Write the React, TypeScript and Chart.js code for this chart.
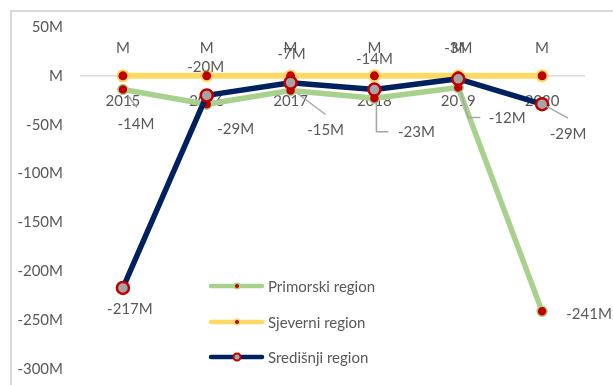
import React, { useEffect, useRef } from 'react';
import { Chart, registerables } from 'chart.js';
Chart.register(...registerables);

const years = ['2015', '2016', '2017', '2018', '2019', '2020'];
const primorski = [-14, -29, -15, -23, -12, -241];
const sjeverni = [0, 0, 0, 0, 0, 0];
const sredisnji = [-217, -20, -7, -14, -3, -29];
const yTicks = [50, 0, -50, -100, -150, -200, -250, -300];
const seriesNames = ['Primorski region', 'Sjeverni region', 'Središnji region'];

const FONT = 'Lato';
const TEXT = '#595959';
const GREEN = '#a9d18e';
const YELLOW = '#ffd966';
const NAVY = '#002060';
const RED = '#c00000';
const GREY = '#a5a5a5';
const LEADER = '#a6a6a6';

const fmt = (v: number) => (v === 0 ? 'M' : `${v}M`);

type LS = { dx: number; dy: number; leader?: number[][] };
// data label placement (styling only)
const labelStyle: LS[][] = [
  [
    { dx: 13, dy: 35, leader: [[5, 6], [14, 18]] },
    { dx: 29, dy: 25 },
    { dx: 35, dy: 40, leader: [[7, 3], [35, 24]] },
    { dx: 42, dy: 33.5, leader: [[2, 4], [2, 33.5], [14, 33.5]] },
    { dx: 49, dy: 30.5, leader: [[2, 3], [10, 30], [22, 30]] },
    { dx: 47, dy: 3 },
  ],
  years.map(() => ({ dx: 0, dy: -28 })),
  [
    { dx: 7, dy: 21 },
    { dx: -1, dy: -28 },
    { dx: 1, dy: -29 },
    { dx: 0, dy: -30 },
    { dx: 0, dy: -30.5 },
    { dx: 26, dy: 30, leader: [[4, 2], [26, 14]] },
  ],
];

const bgPlugin = {
  id: 'bg',
  beforeDraw(chart: any) {
    const { ctx, width, height } = chart;
    ctx.save();
    ctx.fillStyle = '#ffffff';
    ctx.fillRect(0, 0, width, height);
    ctx.fillStyle = '#d9d9d9';
    ctx.fillRect(10, 10, width - 10, 2);
    ctx.fillRect(10, 10, 2, height - 10);
    ctx.restore();
  },
};

const labelsPlugin = {
  id: 'dlabels',
  afterDatasetsDraw(chart: any) {
    const { ctx } = chart;
    ctx.save();
    chart.data.datasets.forEach((ds: any, i: number) => {
      const meta = chart.getDatasetMeta(i);
      meta.data.forEach((pt: any, j: number) => {
        const st = labelStyle[i][j];
        const v = ds.data[j];
        if (st.leader) {
          ctx.strokeStyle = LEADER;
          ctx.lineWidth = 1.5;
          ctx.beginPath();
          st.leader.forEach((p, k) => {
            if (k === 0) ctx.moveTo(pt.x + p[0], pt.y + p[1]);
            else ctx.lineTo(pt.x + p[0], pt.y + p[1]);
          });
          ctx.stroke();
        }
        ctx.fillStyle = TEXT;
        ctx.font = `15px ${FONT}`;
        ctx.textAlign = 'center';
        ctx.textBaseline = 'middle';
        ctx.fillText(fmt(v), pt.x + st.dx, pt.y + st.dy);
      });
    });
    ctx.restore();
  },
};

const legendPlugin = {
  id: 'customLegend',
  afterDraw(chart: any) {
    const { ctx } = chart;
    const rows = [286, 322, 357];
    ctx.save();
    chart.data.datasets.forEach((ds: any, i: number) => {
      const y = rows[i];
      ctx.strokeStyle = ds.borderColor;
      ctx.lineWidth = 4.5;
      ctx.lineCap = 'round';
      ctx.beginPath();
      ctx.moveTo(211, y);
      ctx.lineTo(262, y);
      ctx.stroke();
      ctx.beginPath();
      ctx.arc(237, y, i === 2 ? 3.5 : 2.8, 0, Math.PI * 2);
      ctx.fillStyle = ds.pointBackgroundColor;
      ctx.fill();
      ctx.lineWidth = i === 2 ? 2 : 1.5;
      ctx.strokeStyle = ds.pointBorderColor;
      ctx.stroke();
      ctx.fillStyle = TEXT;
      ctx.font = `15px ${FONT}`;
      ctx.textAlign = 'left';
      ctx.textBaseline = 'middle';
      ctx.fillText(seriesNames[i], 268, y + 1);
    });
    ctx.restore();
  },
};

export default function App() {
  const ref = useRef<HTMLCanvasElement>(null);
  useEffect(() => {
    document.body.style.margin = '0';
    const chart = new Chart(ref.current as HTMLCanvasElement, {
      type: 'line',
      data: {
        labels: years,
        datasets: [
          {
            label: seriesNames[0],
            data: primorski,
            borderColor: GREEN,
            borderWidth: 5.5,
            pointBackgroundColor: RED,
            pointBorderColor: GREEN,
            pointRadius: 5,
            pointBorderWidth: 1.5,
            order: 3,
          },
          {
            label: seriesNames[1],
            data: sjeverni,
            borderColor: YELLOW,
            borderWidth: 6,
            pointBackgroundColor: RED,
            pointBorderColor: YELLOW,
            pointRadius: 5.5,
            pointBorderWidth: 2,
            order: 2,
          },
          {
            label: seriesNames[2],
            data: sredisnji,
            borderColor: NAVY,
            borderWidth: 5.5,
            pointBackgroundColor: GREY,
            pointBorderColor: RED,
            pointRadius: 6,
            pointBorderWidth: 2.5,
            order: 1,
          },
        ],
      },
      options: {
        animation: false,
        responsive: false,
        devicePixelRatio: 1,
        elements: { line: { tension: 0, borderCapStyle: 'round', borderJoinStyle: 'round' } },
        layout: { padding: { left: 0, right: 29, top: 27, bottom: 16 } },
        plugins: { legend: { display: false }, tooltip: { enabled: false } },
        scales: {
          x: {
            position: { y: 0 } as any,
            offset: true,
            afterFit: (s: any) => {
              s.height = 0;
              s.paddingTop = 0;
              s.paddingBottom = 0;
              s.paddingLeft = 0;
              s.paddingRight = 0;
            },
            grid: { display: false, drawTicks: false },
            border: { display: true, color: '#d9d9d9', width: 1.5 },
            ticks: { color: TEXT, font: { family: FONT, size: 15 }, padding: 16, maxRotation: 0 },
          },
          y: {
            min: -300,
            max: 50,
            afterBuildTicks: (s: any) => {
              s.ticks = yTicks.map((v) => ({ value: v }));
            },
            afterFit: (s: any) => {
              s.width = 81;
              s.paddingTop = 0;
              s.paddingBottom = 0;
            },
            grid: { display: false, drawTicks: false },
            border: { display: false },
            ticks: {
              color: TEXT,
              font: { family: FONT, size: 15 },
              padding: 18,
              callback: (v: any) => fmt(Number(v)),
            },
          },
        },
      },
      plugins: [bgPlugin, labelsPlugin, legendPlugin],
    });
    return () => chart.destroy();
  }, []);
  return (
    <div style={{ position: 'absolute', left: 0, top: 0, width: 613, height: 385 }}>
      <canvas ref={ref} width={613} height={385} style={{ display: 'block' }} />
    </div>
  );
}
